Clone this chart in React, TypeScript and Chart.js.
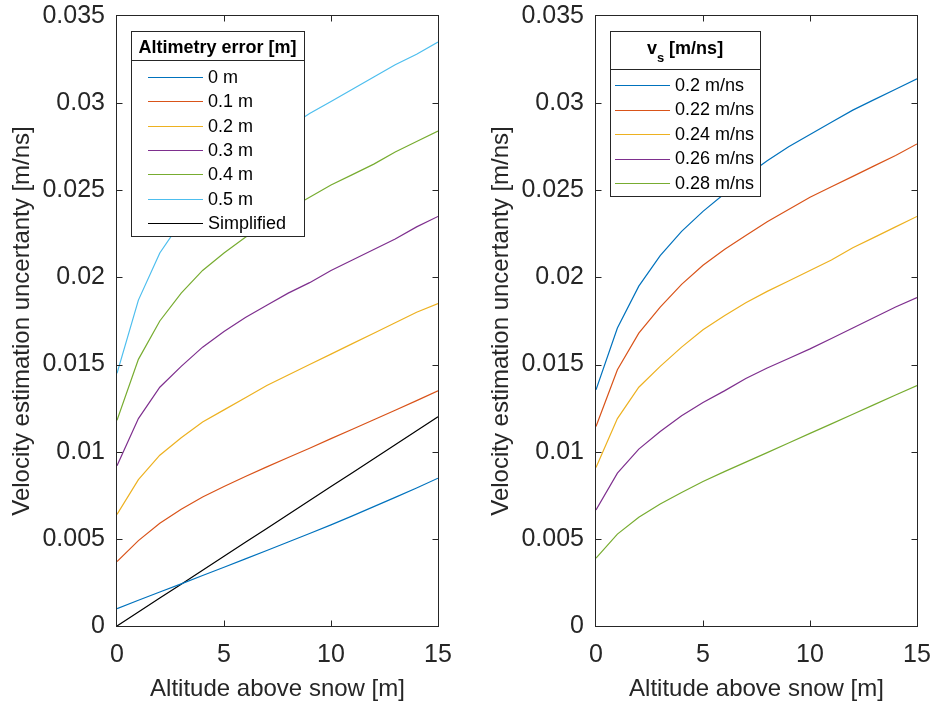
import React, { useEffect, useRef } from 'react';
import { Chart, registerables } from 'chart.js';

Chart.register(...registerables);

// ---------- data ----------
const altitude = [0, 1, 2, 3, 4, 5, 6, 7, 8, 9, 10, 11, 12, 13, 14, 15];

const errLabels = ['0 m', '0.1 m', '0.2 m', '0.3 m', '0.4 m', '0.5 m', 'Simplified'];
const err00 = [0.0010, 0.00148, 0.00195, 0.00242, 0.0029, 0.00337, 0.00385, 0.00433, 0.00482, 0.00531, 0.0058, 0.00632, 0.00685, 0.00738, 0.00792, 0.00848];
const err01 = [0.0037, 0.0049, 0.0059, 0.0067, 0.0074, 0.0080, 0.00858, 0.00913, 0.00967, 0.0102, 0.01075, 0.01129, 0.01183, 0.01238, 0.01293, 0.0135];
const err02 = [0.0064, 0.0084, 0.0098, 0.0108, 0.0117, 0.0124, 0.0131, 0.0138, 0.0144, 0.0150, 0.0156, 0.0162, 0.0168, 0.0174, 0.0180, 0.0185];
const err03 = [0.0092, 0.0119, 0.0137, 0.0149, 0.0160, 0.0169, 0.0177, 0.0184, 0.0191, 0.0197, 0.0204, 0.0210, 0.0216, 0.0222, 0.0229, 0.0235];
const err04 = [0.0118, 0.0153, 0.0175, 0.0191, 0.0204, 0.0214, 0.0223, 0.0231, 0.0239, 0.0246, 0.0253, 0.0259, 0.0265, 0.0272, 0.0278, 0.0284];
const err05 = [0.0145, 0.0187, 0.0214, 0.0232, 0.0246, 0.0258, 0.0268, 0.0277, 0.0286, 0.0294, 0.0301, 0.0308, 0.0315, 0.0322, 0.0328, 0.0335];
const errSimplified = [0, 0.0008, 0.0016, 0.0024, 0.0032, 0.0040, 0.0048, 0.0056, 0.0064, 0.0072, 0.0080, 0.0088, 0.0096, 0.0104, 0.0112, 0.0120];

const vsLabels = ['0.2 m/ns', '0.22 m/ns', '0.24 m/ns', '0.26 m/ns', '0.28 m/ns'];
const vs020 = [0.01355, 0.0171, 0.0195, 0.02125, 0.02264, 0.02379, 0.0248, 0.0258, 0.0267, 0.0275, 0.0282, 0.0289, 0.0296, 0.0302, 0.0308, 0.0314];
const vs022 = [0.01145, 0.0147, 0.0168, 0.0183, 0.0196, 0.0207, 0.0216, 0.0224, 0.0232, 0.0239, 0.0246, 0.0252, 0.0258, 0.0264, 0.0270, 0.02766];
const vs024 = [0.0091, 0.0119, 0.0137, 0.0149, 0.0160, 0.0170, 0.0178, 0.01855, 0.0192, 0.0198, 0.0204, 0.0210, 0.0217, 0.0223, 0.0229, 0.0235];
const vs026 = [0.00666, 0.00877, 0.01015, 0.01116, 0.01206, 0.01282, 0.01349, 0.0142, 0.0148, 0.01535, 0.0159, 0.0165, 0.0171, 0.0177, 0.0183, 0.01885];
const vs028 = [0.00389, 0.00527, 0.00624, 0.0070, 0.00766, 0.00829, 0.00886, 0.0094, 0.00995, 0.0105, 0.01105, 0.0116, 0.01215, 0.0127, 0.01325, 0.0138];

const xTickValues = [0, 5, 10, 15];
const yTickValues = [0, 0.005, 0.01, 0.015, 0.02, 0.025, 0.03, 0.035];

const palette = ['#0072BD', '#D95319', '#EDB120', '#7E2F8E', '#77AC30', '#4DBEEE', '#000000'];

const FONT = '"Liberation Sans", Arial, Helvetica, sans-serif';
const AXIS_COLOR = '#262626';

// ---------- plugins ----------
const framePlugin = {
  id: 'matlabFrame',
  afterDatasetsDraw(chart: any) {
    const { ctx, chartArea: a, scales } = chart;
    ctx.save();
    ctx.strokeStyle = AXIS_COLOR;
    ctx.lineWidth = 1;
    const L = a.left - 0.5, R = a.right + 0.5, T = a.top - 0.5, B = a.bottom + 0.5;
    ctx.strokeRect(L, T, R - L, B - T);
    const tl = 6;
    ctx.beginPath();
    scales.x.ticks.forEach((t: any) => {
      const px = Math.round(scales.x.getPixelForValue(t.value)) + 0.5;
      if (px <= L + 1 || px >= R - 1) return;
      ctx.moveTo(px, B); ctx.lineTo(px, B - tl);
      ctx.moveTo(px, T); ctx.lineTo(px, T + tl);
    });
    scales.y.ticks.forEach((t: any) => {
      const py = Math.round(scales.y.getPixelForValue(t.value)) + 0.5;
      if (py <= T + 1 || py >= B - 1) return;
      ctx.moveTo(L, py); ctx.lineTo(L + tl, py);
      ctx.moveTo(R, py); ctx.lineTo(R - tl, py);
    });
    ctx.stroke();
    ctx.restore();
  },
};

type LegendCfg = {
  x: number; y: number; w: number; h: number; sepY: number;
  row0: number; rowStep: number; lineX0: number; lineX1: number; textX: number;
  title: 'alt' | 'vs';
};

function makeLegendPlugin(cfg: LegendCfg) {
  return {
    id: 'boxLegend',
    afterDraw(chart: any) {
      const ctx = chart.ctx as CanvasRenderingContext2D;
      ctx.save();
      ctx.fillStyle = '#ffffff';
      ctx.fillRect(cfg.x, cfg.y, cfg.w, cfg.h);
      ctx.strokeStyle = AXIS_COLOR;
      ctx.lineWidth = 1;
      ctx.strokeRect(cfg.x + 0.5, cfg.y + 0.5, cfg.w, cfg.h);
      ctx.beginPath();
      ctx.moveTo(cfg.x, cfg.sepY + 0.5);
      ctx.lineTo(cfg.x + cfg.w, cfg.sepY + 0.5);
      ctx.stroke();

      const cx = cfg.x + cfg.w / 2;
      ctx.fillStyle = '#000000';
      ctx.textBaseline = 'alphabetic';
      if (cfg.title === 'alt') {
        ctx.font = `bold 18px ${FONT}`;
        ctx.textAlign = 'center';
        ctx.fillText('Altimetry error [m]', cx, 53);
      } else {
        ctx.textAlign = 'left';
        const bigFont = `bold 18px ${FONT}`;
        const subFont = `bold 13px ${FONT}`;
        ctx.font = bigFont;
        const wv = ctx.measureText('v').width;
        const wr = ctx.measureText(' [m/ns]').width;
        ctx.font = subFont;
        const ws = ctx.measureText('s').width;
        const x0 = cx - (wv + ws + wr) / 2;
        ctx.font = bigFont;
        ctx.fillText('v', x0, 54);
        ctx.font = subFont;
        ctx.fillText('s', x0 + wv, 61.5);
        ctx.font = bigFont;
        ctx.fillText(' [m/ns]', x0 + wv + ws, 54);
      }

      ctx.font = `18px ${FONT}`;
      ctx.textAlign = 'left';
      ctx.textBaseline = 'middle';
      chart.data.datasets.forEach((ds: any, i: number) => {
        const yy = cfg.row0 + i * cfg.rowStep;
        ctx.strokeStyle = ds.borderColor;
        ctx.lineWidth = 1;
        ctx.beginPath();
        ctx.moveTo(cfg.lineX0, Math.round(yy) + 0.5);
        ctx.lineTo(cfg.lineX1, Math.round(yy) + 0.5);
        ctx.stroke();
        ctx.fillStyle = '#000000';
        ctx.fillText(ds.label, cfg.textX, yy + 1);
      });
      ctx.restore();
    },
  };
}

// ---------- chart config ----------
function buildConfig(labels: string[], series: number[][], padRight: number, legend: LegendCfg): any {
  return {
    type: 'line',
    data: {
      datasets: series.map((s, i) => ({
        label: labels[i],
        data: altitude.map((h, j) => ({ x: h, y: s[j] })),
        borderColor: palette[i],
        backgroundColor: palette[i],
        borderWidth: 1.2,
        pointRadius: 0,
        tension: 0,
        fill: false,
      })),
    },
    options: {
      responsive: false,
      animation: false,
      devicePixelRatio: 1,
      layout: { padding: { left: 3, right: padRight, top: 16, bottom: 0 } },
      plugins: { legend: { display: false }, tooltip: { enabled: false } },
      scales: {
        x: {
          type: 'linear',
          min: 0,
          max: 15,
          afterBuildTicks: (s: any) => { s.ticks = xTickValues.map((v) => ({ value: v })); },
          ticks: {
            color: AXIS_COLOR,
            font: { family: FONT, size: 25 },
            padding: 14,
            maxRotation: 0,
            callback: (v: any) => String(v),
          },
          grid: { display: false, drawTicks: false },
          border: { display: false },
          title: {
            display: true,
            text: 'Altitude above snow [m]',
            color: AXIS_COLOR,
            font: { family: FONT, size: 24 },
            padding: { top: 4, bottom: 3 },
          },
          afterFit: (s: any) => {
            s.height = 81;
            s.paddingLeft = 0; s.paddingRight = 0; s.paddingTop = 0; s.paddingBottom = 0;
          },
        },
        y: {
          type: 'linear',
          min: 0,
          max: 0.035,
          afterBuildTicks: (s: any) => { s.ticks = yTickValues.map((v) => ({ value: v })); },
          ticks: {
            color: AXIS_COLOR,
            font: { family: FONT, size: 25 },
            padding: 12,
            callback: (v: any) => String(Number(Number(v).toFixed(4))),
          },
          grid: { display: false, drawTicks: false },
          border: { display: false },
          title: {
            display: true,
            text: 'Velocity estimation uncertanty [m/ns]',
            color: AXIS_COLOR,
            font: { family: FONT, size: 24 },
            padding: { top: 5, bottom: 4 },
          },
          afterFit: (s: any) => {
            s.width = 114;
            s.paddingLeft = 0; s.paddingRight = 0; s.paddingTop = 0; s.paddingBottom = 0;
          },
        },
      },
    },
    plugins: [framePlugin, makeLegendPlugin(legend)],
  };
}

function Panel(props: { left: number; width: number; padRight: number; labels: string[]; series: number[][]; legend: LegendCfg }) {
  const ref = useRef<HTMLCanvasElement | null>(null);
  useEffect(() => {
    if (!ref.current) return;
    const chart = new Chart(ref.current, buildConfig(props.labels, props.series, props.padRight, props.legend));
    return () => chart.destroy();
  }, []);
  return (
    <canvas
      ref={ref}
      width={props.width}
      height={707}
      style={{ position: 'absolute', left: props.left, top: 0, width: props.width, height: 707 }}
    />
  );
}

export default function App() {
  return (
    <div style={{ position: 'fixed', left: 0, top: 0, width: 936, height: 707, background: '#ffffff', overflow: 'hidden' }}>
      <Panel
        left={0}
        width={468}
        padRight={30}
        labels={errLabels}
        series={[err00, err01, err02, err03, err04, err05, errSimplified]}
        legend={{ x: 131, y: 31, w: 173, h: 205, sepY: 60, row0: 77, rowStep: 24.33, lineX0: 148, lineX1: 203, textX: 208, title: 'alt' }}
      />
      <Panel
        left={479}
        width={457}
        padRight={19}
        labels={vsLabels}
        series={[vs020, vs022, vs024, vs026, vs028]}
        legend={{ x: 131, y: 31, w: 150, h: 165, sepY: 69, row0: 85, rowStep: 24.5, lineX0: 136, lineX1: 191, textX: 196, title: 'vs' }}
      />
    </div>
  );
}
